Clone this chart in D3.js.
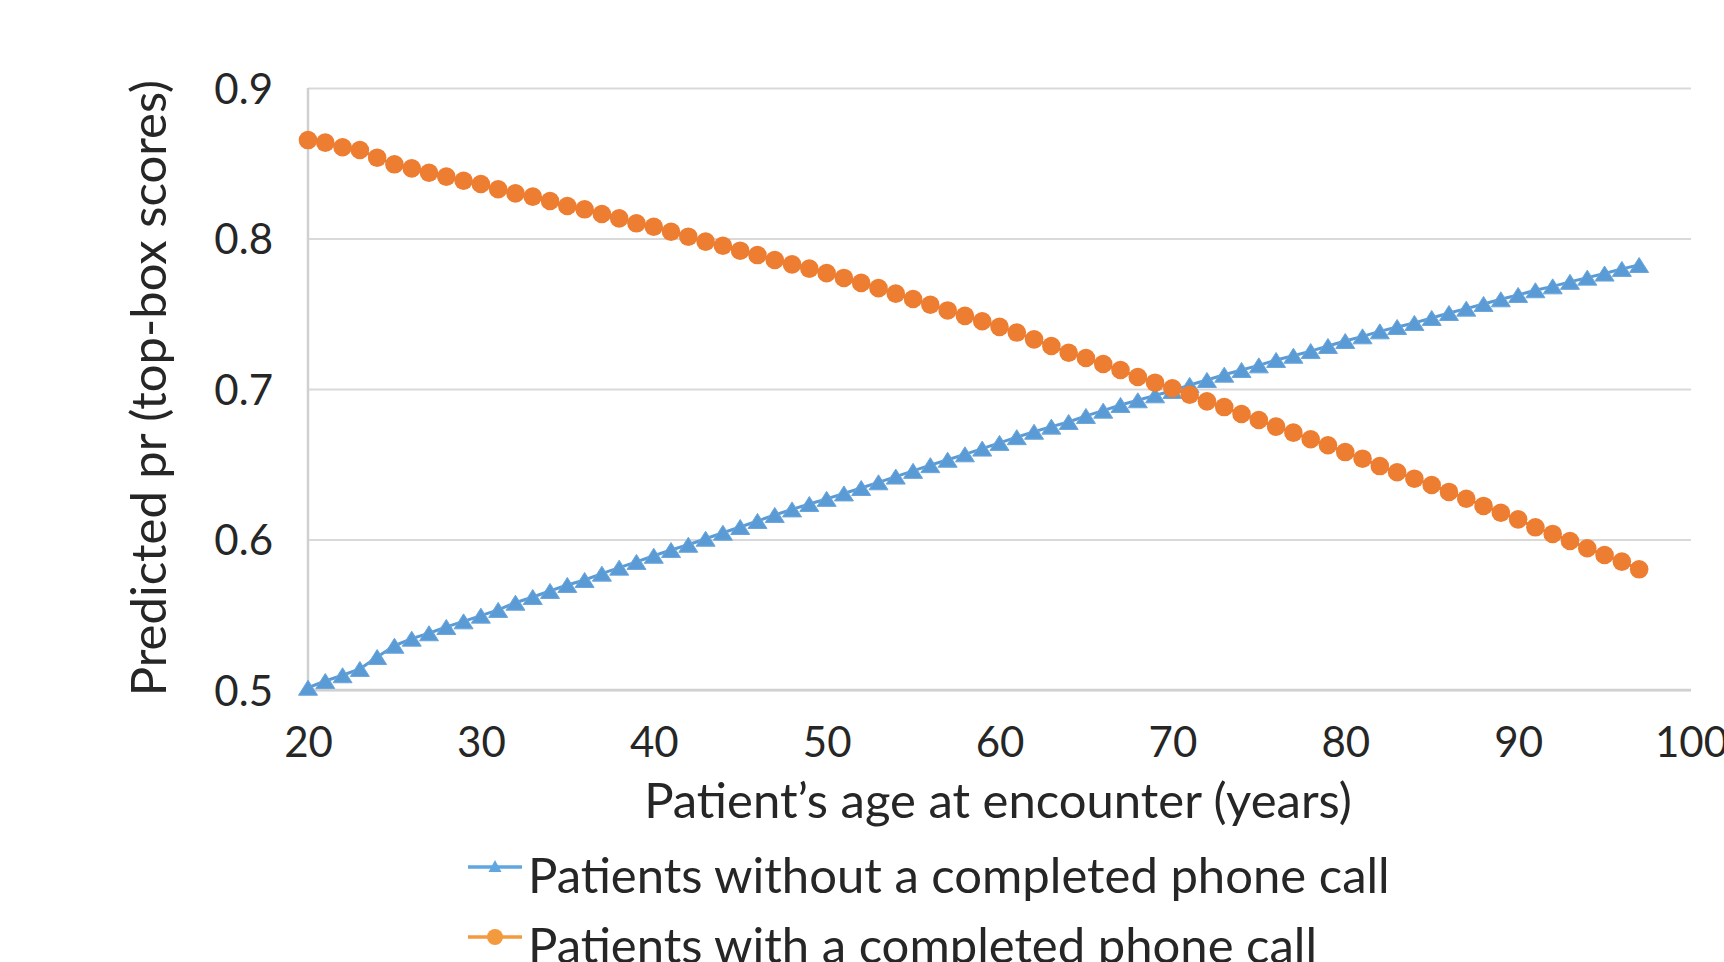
<!DOCTYPE html>
<html>
<head>
<meta charset="utf-8">
<script src="https://cdn.jsdelivr.net/npm/d3@7"></script>
<style>
  body { margin: 0; background: #fff; }
  svg { display: block; font-family: Lato, "Open Sans", sans-serif; }
</style>
</head>
<body>
<svg id="chart" width="1724" height="962"></svg>
<script>
// ages at encounter (x)
const ages = [20, 21, 22, 23, 24, 25, 26, 27, 28, 29, 30, 31, 32, 33, 34, 35, 36, 37, 38, 39,
    40, 41, 42, 43, 44, 45, 46, 47, 48, 49, 50, 51, 52, 53, 54, 55, 56, 57, 58, 59,
    60, 61, 62, 63, 64, 65, 66, 67, 68, 69, 70, 71, 72, 73, 74, 75, 76, 77, 78, 79,
    80, 81, 82, 83, 84, 85, 86, 87, 88, 89, 90, 91, 92, 93, 94, 95, 96, 97]

// predicted probability, patients without a completed phone call
const withoutCall = [0.5015, 0.5060, 0.5098, 0.5140, 0.5219, 0.5294, 0.5341, 0.5377, 0.5419, 0.5456,
    0.5494, 0.5532, 0.5580, 0.5618, 0.5658, 0.5698, 0.5731, 0.5773, 0.5813, 0.5851,
    0.5892, 0.5930, 0.5965, 0.6005, 0.6045, 0.6083, 0.6123, 0.6163, 0.6200, 0.6236,
    0.6270, 0.6306, 0.6342, 0.6380, 0.6418, 0.6456, 0.6494, 0.6530, 0.6566, 0.6604,
    0.6642, 0.6680, 0.6716, 0.6750, 0.6781, 0.6821, 0.6856, 0.6894, 0.6925, 0.6958,
    0.6987, 0.7027, 0.7060, 0.7095, 0.7126, 0.7157, 0.7193, 0.7221, 0.7252, 0.7286,
    0.7319, 0.7350, 0.7383, 0.7412, 0.7439, 0.7472, 0.7505, 0.7534, 0.7565, 0.7596,
    0.7625, 0.7656, 0.7682, 0.7712, 0.7740, 0.7767, 0.7798, 0.7824]

// predicted probability, patients with a completed phone call
const withCall = [0.8654, 0.8637, 0.8606, 0.8588, 0.8537, 0.8493, 0.8466, 0.8437, 0.8411, 0.8384,
    0.8362, 0.8327, 0.8300, 0.8278, 0.8249, 0.8216, 0.8194, 0.8163, 0.8134, 0.8101,
    0.8078, 0.8045, 0.8012, 0.7979, 0.7952, 0.7919, 0.7890, 0.7857, 0.7828, 0.7800,
    0.7770, 0.7738, 0.7705, 0.7670, 0.7634, 0.7598, 0.7560, 0.7522, 0.7486, 0.7450,
    0.7413, 0.7375, 0.7330, 0.7286, 0.7241, 0.7206, 0.7166, 0.7126, 0.7080, 0.7042,
    0.7005, 0.6962, 0.6918, 0.6880, 0.6834, 0.6794, 0.6750, 0.6710, 0.6666, 0.6626,
    0.6581, 0.6537, 0.6488, 0.6447, 0.6404, 0.6362, 0.6316, 0.6271, 0.6223, 0.6178,
    0.6134, 0.6081, 0.6037, 0.5990, 0.5942, 0.5897, 0.5853, 0.5802]

const xTicks = [20, 30, 40, 50, 60, 70, 80, 90, 100]
const yTicks = [0.5, 0.6, 0.7, 0.8, 0.9]

const seriesNames = ["Patients without a completed phone call", "Patients with a completed phone call"]

const svg = d3.select("#chart")
const margin = {top: 88, right: 33, bottom: 272, left: 308}
const width = 1724, height = 962
const textColor = "#262626"
const blue = "#5b9bd5", orange = "#ed7d31"

const xScale = d3.scaleLinear()
    .domain([20, 100])
    .range([margin.left, width - margin.right])
const yScale = d3.scaleLinear()
    .domain([0.5, 0.9])
    .range([height - margin.bottom, margin.top])

// gridlines
svg.append("g")
    .attr("transform", `translate(${margin.left},0)`)
    .call(d3.axisLeft(yScale).tickValues(yTicks).tickSize(-(xScale(100) - margin.left)).tickFormat(""))
    .call(g => g.select(".domain").remove())
    .call(g => g.selectAll(".tick line").attr("stroke", "#d9d9d9").attr("stroke-width", 2.2))

// y axis line
svg.append("line")
    .attr("x1", xScale(20)).attr("x2", xScale(20))
    .attr("y1", yScale(0.9)).attr("y2", yScale(0.5))
    .attr("stroke", "#d0d0d0").attr("stroke-width", 2.5)
// x axis line
svg.append("line")
    .attr("x1", xScale(20)).attr("x2", xScale(100))
    .attr("y1", yScale(0.5)).attr("y2", yScale(0.5))
    .attr("stroke", "#d0d0d0").attr("stroke-width", 2.5)

// y tick labels
svg.append("g")
    .attr("transform", `translate(${margin.left},0)`)
    .call(d3.axisLeft(yScale).tickValues(yTicks).tickSize(0).tickPadding(35).tickFormat(d3.format(".1f")))
    .call(g => g.select(".domain").remove())
    .call(g => g.selectAll("text")
        .attr("fill", textColor)
        .attr("font-family", "Lato, sans-serif")
        .attr("font-size", 42)
        .attr("dy", "0.36em"))

// x tick labels
svg.append("g")
    .attr("transform", `translate(0,${yScale(0.5)})`)
    .call(d3.axisBottom(xScale).tickValues(xTicks).tickSize(0).tickPadding(37))
    .call(g => g.select(".domain").remove())
    .call(g => g.selectAll("text")
        .attr("fill", textColor)
        .attr("font-family", "Lato, sans-serif")
        .attr("font-size", 42))

// axis titles
svg.append("text")
    .attr("x", 998).attr("y", 818)
    .attr("text-anchor", "middle")
    .attr("fill", textColor)
    .attr("font-size", 49)
    .text("Patient\u2019s age at encounter (years)")

svg.append("text")
    .attr("transform", `translate(166,${388}) rotate(-90)`)
    .attr("text-anchor", "middle")
    .attr("fill", textColor)
    .attr("font-size", 49)
    .text("Predicted pr (top-box scores)")

const line = d3.line()
    .x((d, i) => xScale(ages[i]))
    .y(d => yScale(d))

const triangle = "M0,-7.5L9.5,7.5L-9.5,7.5Z"

// series without call: line + triangles
svg.append("path")
    .datum(withoutCall)
    .attr("fill", "none")
    .attr("stroke", blue)
    .attr("stroke-width", 3)
    .attr("stroke-linejoin", "round")
    .attr("d", line)

svg.append("g")
    .selectAll("path")
    .data(withoutCall)
    .join("path")
    .attr("transform", (d, i) => `translate(${xScale(ages[i])},${yScale(d)})`)
    .attr("d", triangle)
    .attr("fill", blue)
    .attr("stroke", "#6aa6dc")
    .attr("stroke-width", 1)

// series with call: line + circles
svg.append("path")
    .datum(withCall)
    .attr("fill", "none")
    .attr("stroke", orange)
    .attr("stroke-width", 3)
    .attr("d", line)

svg.append("g")
    .selectAll("circle")
    .data(withCall)
    .join("circle")
    .attr("cx", (d, i) => xScale(ages[i]))
    .attr("cy", d => yScale(d))
    .attr("r", 9.3)
    .attr("fill", orange)

// legend
const legend = svg.append("g")
const legendY = [867, 937]
const legendColors = ["#5fa7e0", "#f49a3e"]

seriesNames.forEach((name, i) => {
    let g = legend.append("g").attr("transform", `translate(0,${legendY[i]})`)
    g.append("line")
        .attr("x1", 468).attr("x2", 522)
        .attr("stroke", legendColors[i]).attr("stroke-width", 3.5)
    if (i === 0) {
        g.append("path")
            .attr("transform", "translate(495,0)")
            .attr("d", "M0,-7L6.5,5L-6.5,5Z")
            .attr("fill", legendColors[i])
    } else {
        g.append("circle")
            .attr("cx", 495).attr("r", 8)
            .attr("fill", legendColors[i])
    }
    g.append("text")
        .attr("x", 528).attr("y", 26)
        .attr("fill", textColor)
        .attr("font-size", 49)
        .text(name)
})
</script>
</body>
</html>
